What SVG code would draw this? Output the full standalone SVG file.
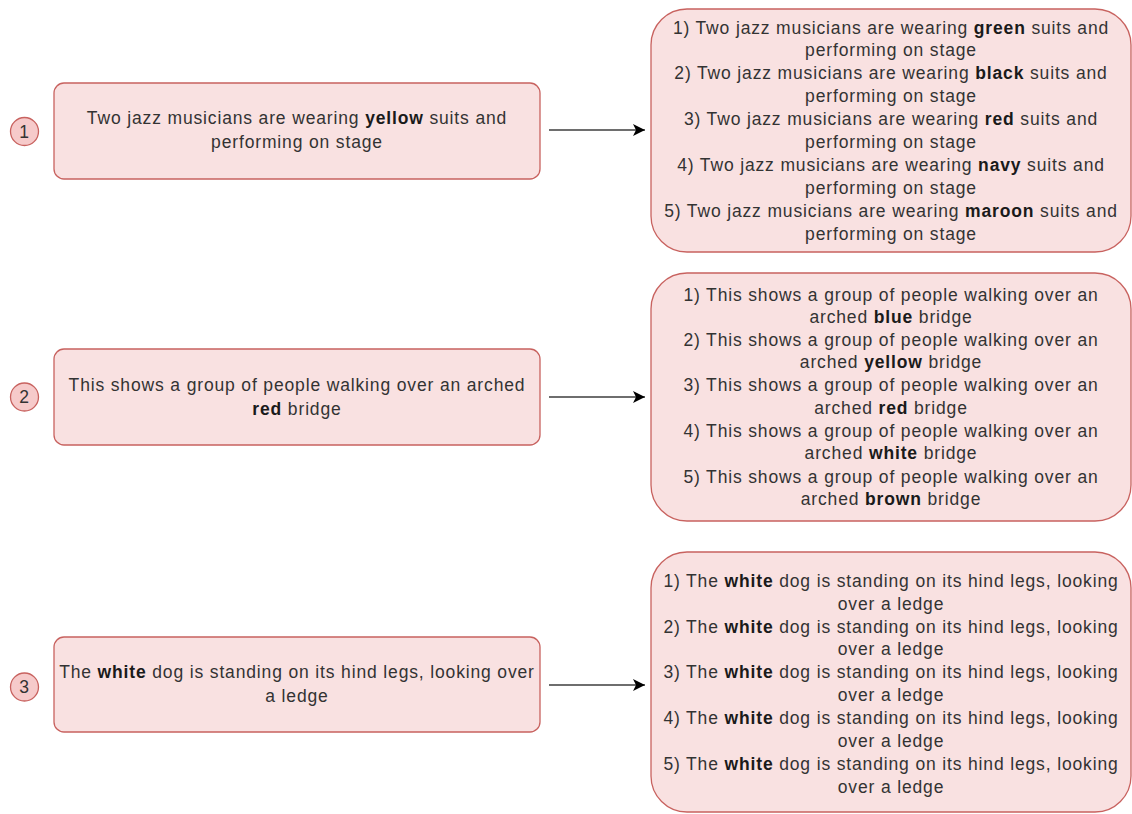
<svg xmlns="http://www.w3.org/2000/svg" width="1132" height="814" viewBox="0 0 1132 814">
<style>
.box{fill:#f9e1e1;stroke:#c8625f;stroke-width:1.3}
.num{fill:#f6caca;stroke:#c8625f;stroke-width:1.3}
text{font-family:"Liberation Sans",Arial,sans-serif;font-size:17.5px;letter-spacing:0.85px;fill:#333;text-anchor:middle}
.b{font-weight:bold;fill:#1a1a1a}
.conn{stroke:#6e6e6e;stroke-width:2.2;fill:none}
</style>
<defs>
<marker id="arr" markerWidth="13" markerHeight="12" refX="12" refY="6" orient="auto" markerUnits="userSpaceOnUse">
<path d="M0,0 L12,6 L0,12 L3,6 Z" fill="#000"/>
</marker>
</defs>
<rect width="1132" height="814" fill="#fff"/>
<g id="connectors">
<line class="conn" x1="549" y1="130" x2="645" y2="130" marker-end="url(#arr)"/>
<line class="conn" x1="549" y1="397" x2="645" y2="397" marker-end="url(#arr)"/>
<line class="conn" x1="549" y1="685" x2="645" y2="685" marker-end="url(#arr)"/>
</g>
<g id="num1"><circle class="num" cx="24.5" cy="131.5" r="14"/><text x="24.5" y="137.5">1</text></g>
<g id="num2"><circle class="num" cx="24.5" cy="397" r="14"/><text x="24.5" y="403">2</text></g>
<g id="num3"><circle class="num" cx="24.5" cy="687" r="14"/><text x="24.5" y="693">3</text></g>
<g id="src1">
<rect class="box" x="54" y="83" width="486" height="96" rx="10"/>
<text x="297" y="124">Two jazz musicians are wearing <tspan class="b">yellow</tspan> suits and</text>
<text x="297" y="148">performing on stage</text>
</g>
<g id="src2">
<rect class="box" x="54" y="349" width="486" height="96" rx="10"/>
<text x="297" y="391">This shows a group of people walking over an arched</text>
<text x="297" y="415"><tspan class="b">red</tspan> bridge</text>
</g>
<g id="src3">
<rect class="box" x="54" y="637" width="486" height="95" rx="10"/>
<text x="297" y="678">The <tspan class="b">white</tspan> dog is standing on its hind legs, looking over</text>
<text x="297" y="702">a ledge</text>
</g>
<g id="out1">
<rect class="box" x="651" y="9" width="480" height="243" rx="36"/>
<text x="891" y="34">1) Two jazz musicians are wearing <tspan class="b">green</tspan> suits and</text>
<text x="891" y="56">performing on stage</text>
<text x="891" y="79">2) Two jazz musicians are wearing <tspan class="b">black</tspan> suits and</text>
<text x="891" y="102">performing on stage</text>
<text x="891" y="125">3) Two jazz musicians are wearing <tspan class="b">red</tspan> suits and</text>
<text x="891" y="148">performing on stage</text>
<text x="891" y="171">4) Two jazz musicians are wearing <tspan class="b">navy</tspan> suits and</text>
<text x="891" y="194">performing on stage</text>
<text x="891" y="217">5) Two jazz musicians are wearing <tspan class="b">maroon</tspan> suits and</text>
<text x="891" y="240">performing on stage</text>
</g>
<g id="out2">
<rect class="box" x="651" y="273" width="480" height="248" rx="36"/>
<text x="891" y="301">1) This shows a group of people walking over an</text>
<text x="891" y="323">arched <tspan class="b">blue</tspan> bridge</text>
<text x="891" y="346">2) This shows a group of people walking over an</text>
<text x="891" y="368">arched <tspan class="b">yellow</tspan> bridge</text>
<text x="891" y="391">3) This shows a group of people walking over an</text>
<text x="891" y="414">arched <tspan class="b">red</tspan> bridge</text>
<text x="891" y="437">4) This shows a group of people walking over an</text>
<text x="891" y="459">arched <tspan class="b">white</tspan> bridge</text>
<text x="891" y="483">5) This shows a group of people walking over an</text>
<text x="891" y="505">arched <tspan class="b">brown</tspan> bridge</text>
</g>
<g id="out3">
<rect class="box" x="651" y="552" width="480" height="260" rx="36"/>
<text x="891" y="587">1) The <tspan class="b">white</tspan> dog is standing on its hind legs, looking</text>
<text x="891" y="610">over a ledge</text>
<text x="891" y="633">2) The <tspan class="b">white</tspan> dog is standing on its hind legs, looking</text>
<text x="891" y="655">over a ledge</text>
<text x="891" y="678">3) The <tspan class="b">white</tspan> dog is standing on its hind legs, looking</text>
<text x="891" y="701">over a ledge</text>
<text x="891" y="724">4) The <tspan class="b">white</tspan> dog is standing on its hind legs, looking</text>
<text x="891" y="747">over a ledge</text>
<text x="891" y="770">5) The <tspan class="b">white</tspan> dog is standing on its hind legs, looking</text>
<text x="891" y="793">over a ledge</text>
</g>
</svg>
